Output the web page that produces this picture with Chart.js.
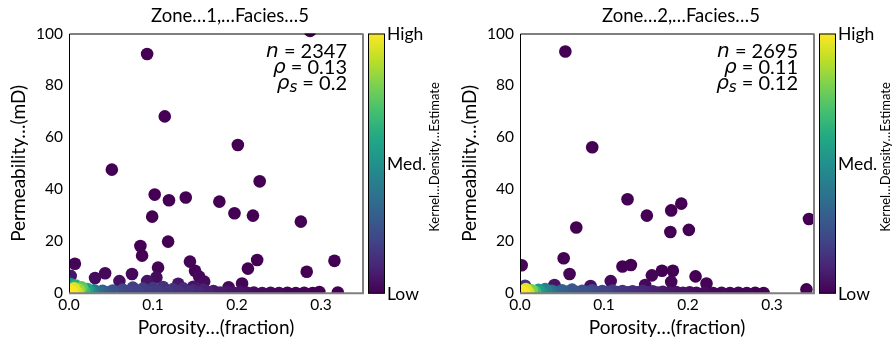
<!DOCTYPE html>
<html>
<head>
<meta charset="utf-8">
<script src="https://cdn.jsdelivr.net/npm/chart.js@4/dist/chart.umd.min.js"></script>
<style>
html, body { margin: 0; padding: 0; background: #fff; }
#wrap { position: relative; width: 893px; height: 341px; overflow: hidden; }
.panel { position: absolute; top: 0; width: 442px; height: 341px; }
</style>
</head>
<body>
<div id="wrap">
  <div class="panel" style="left:0"><canvas id="c1" width="442" height="341"></canvas></div>
  <div class="panel" style="left:451px"><canvas id="c2" width="442" height="341"></canvas></div>
</div>
<script>
// axis ticks
const xTicks = [0, 0.1, 0.2, 0.3];
const yTicks = [0, 20, 40, 60, 80, 100];

// panel text
const panelTitles = ["Zone…1,…Facies…5", "Zone…2,…Facies…5"];
const sampleCounts = ["2347", "2695"];
const pearsonRho = ["0.13", "0.11"];
const spearmanRho = ["0.2", "0.12"];
const colorbarLabels = ["High", "Med.", "Low"];

// Zone 1: porosity (fraction), permeability (mD), kernel density (0 = low, 1 = high)
const zone1Porosity = [
  0.093, 0.114, 0.051, 0.287, 0.201, 0.227, 0.102, 0.119, 0.139, 0.179,
  0.099, 0.197, 0.219, 0.276, 0.118, 0.085, 0.087, 0.007, 0.106, 0.144,
  0.150, 0.224, 0.213, 0.316, 0.283, 0.043, 0.031, 0.075, 0.060, 0.002,
  0.104, 0.093, 0.155, 0.161, 0.130, 0.206, 0.190, 0.298, 0.320, 0.148,
  0.000, 0.004, 0.006, 0.009, 0.002, 0.008, 0.012, 0.015, 0.018, 0.022,
  0.026, 0.030, 0.035, 0.040, 0.046, 0.052, 0.058, 0.064, 0.070, 0.076,
  0.082, 0.088, 0.094, 0.100, 0.106, 0.112, 0.118, 0.124, 0.130, 0.136,
  0.142, 0.148, 0.154, 0.160, 0.166, 0.172, 0.180, 0.188, 0.196, 0.204,
  0.212, 0.220, 0.230, 0.240, 0.250, 0.260, 0.270, 0.280, 0.290
];
const zone1Perm = [
  92.1, 68.1, 47.6, 101.0, 57.1, 43.1, 38.0, 35.8, 36.9, 35.3,
  29.5, 30.8, 29.9, 27.6, 19.9, 18.2, 14.5, 11.4, 9.9, 12.2,
  8.7, 12.8, 9.5, 12.5, 8.3, 7.7, 5.9, 7.4, 4.7, 6.7,
  6.1, 4.7, 6.4, 4.5, 3.7, 3.8, 2.3, 0.5, 0.3, 2.5,
  1.2, 0.6, 1.9, 0.4, 3.6, 3.0, 1.3, 2.3, 0.8, 1.6,
  0.6, 1.2, 0.5, 1.0, 0.4, 1.1, 0.5, 1.4, 0.6, 2.2,
  0.8, 1.8, 0.6, 2.0, 0.9, 2.4, 0.6, 1.6, 0.7, 1.9,
  0.5, 1.2, 0.4, 1.4, 0.5, 0.9, 0.3, 0.6, 0.2, 0.4,
  0.2, 0.3, 0.1, 0.2, 0.1, 0.2, 0.1, 0.2, 0.1
];
const zone1Density = [
  0.00, 0.00, 0.00, 0.00, 0.00, 0.00, 0.00, 0.00, 0.00, 0.00,
  0.00, 0.00, 0.00, 0.00, 0.00, 0.00, 0.00, 0.01, 0.01, 0.01,
  0.01, 0.00, 0.00, 0.00, 0.00, 0.02, 0.03, 0.02, 0.04, 0.06,
  0.03, 0.05, 0.02, 0.03, 0.06, 0.01, 0.02, 0.00, 0.00, 0.05,
  1.00, 0.99, 0.95, 0.93, 0.50, 0.62, 0.85, 0.75, 0.68, 0.58,
  0.48, 0.40, 0.34, 0.30, 0.27, 0.25, 0.23, 0.21, 0.20, 0.18,
  0.19, 0.18, 0.18, 0.16, 0.17, 0.14, 0.16, 0.14, 0.14, 0.12,
  0.13, 0.11, 0.11, 0.09, 0.09, 0.07, 0.07, 0.06, 0.05, 0.05,
  0.04, 0.03, 0.03, 0.02, 0.02, 0.01, 0.01, 0.01, 0.00
];

// Zone 2
const zone2Porosity = [
  0.054, 0.086, 0.128, 0.151, 0.180, 0.192, 0.067, 0.179, 0.201, 0.344,
  0.052, 0.002, 0.059, 0.122, 0.132, 0.157, 0.169, 0.182, 0.180, 0.209,
  0.222, 0.108, 0.041, 0.084, 0.341, 0.149, 0.006,
  0.000, 0.004, 0.007, 0.010, 0.014, 0.018, 0.022, 0.026, 0.030, 0.034,
  0.038, 0.044, 0.050, 0.056, 0.062, 0.068, 0.074, 0.080, 0.086, 0.092,
  0.098, 0.104, 0.110, 0.116, 0.122, 0.128, 0.134, 0.140, 0.146, 0.152,
  0.158, 0.164, 0.170, 0.178, 0.186, 0.194, 0.202, 0.210, 0.220, 0.230,
  0.240, 0.250, 0.260, 0.270, 0.280, 0.290
];
const zone2Perm = [
  93.1, 56.2, 36.2, 29.9, 31.9, 34.5, 25.3, 23.6, 24.4, 28.6,
  13.5, 10.8, 7.4, 10.3, 10.9, 6.9, 8.7, 8.7, 4.4, 6.5,
  3.8, 4.7, 3.2, 2.8, 1.5, 3.2, 2.9,
  1.0, 0.5, 1.6, 0.4, 1.2, 0.6, 1.3, 0.5, 1.6, 0.6,
  1.0, 0.5, 1.2, 0.6, 1.4, 0.5, 1.0, 0.6, 1.2, 0.5,
  0.9, 0.4, 1.1, 0.5, 0.9, 0.4, 0.8, 0.4, 1.0, 0.4,
  0.8, 0.3, 0.6, 0.3, 0.5, 0.2, 0.4, 0.2, 0.3, 0.1,
  0.2, 0.1, 0.2, 0.1, 0.2, 0.1
];
const zone2Density = [
  0.00, 0.00, 0.00, 0.00, 0.00, 0.00, 0.00, 0.00, 0.00, 0.00,
  0.00, 0.01, 0.01, 0.00, 0.00, 0.01, 0.00, 0.00, 0.01, 0.00,
  0.01, 0.02, 0.05, 0.04, 0.00, 0.02, 0.15,
  1.00, 0.99, 0.96, 0.92, 0.80, 0.68, 0.55, 0.48, 0.44, 0.40,
  0.35, 0.32, 0.30, 0.28, 0.27, 0.25, 0.25, 0.24, 0.22, 0.21,
  0.20, 0.19, 0.17, 0.16, 0.15, 0.14, 0.13, 0.12, 0.11, 0.10,
  0.09, 0.08, 0.07, 0.06, 0.05, 0.05, 0.04, 0.03, 0.03, 0.02,
  0.02, 0.01, 0.01, 0.01, 0.00, 0.00
];

const viridis = ["#440154", "#482475", "#414487", "#355f8d", "#2a788e", "#21918c",
                 "#22a884", "#44bf70", "#7ad151", "#bddf26", "#fde725"];

function hexRgb(h) {
    return [parseInt(h.slice(1, 3), 16), parseInt(h.slice(3, 5), 16), parseInt(h.slice(5, 7), 16)];
}

function viridisColor(t) {
    t = Math.max(0, Math.min(1, t));
    const pos = t * (viridis.length - 1);
    const i = Math.min(Math.floor(pos), viridis.length - 2);
    const f = pos - i;
    const a = hexRgb(viridis[i]), b = hexRgb(viridis[i + 1]);
    const c = a.map((v, k) => Math.round(v + (b[k] - v) * f));
    return `rgb(${c[0]},${c[1]},${c[2]})`;
}

// draws title, frame, stats, colorbar and its labels
const decorations = {
    id: "decorations",
    afterDraw(chart, args, opts) {
        const ctx = chart.ctx;
        const a = chart.chartArea;
        ctx.save();

        // frame
        ctx.strokeStyle = "#000";
        ctx.lineWidth = 1;
        ctx.beginPath();
        ctx.moveTo(a.left + 0.5, a.bottom);
        ctx.lineTo(a.left + 0.5, a.top + 0.5);
        ctx.lineTo(a.right, a.top + 0.5);
        ctx.stroke();
        ctx.strokeStyle = "#808080";
        ctx.lineWidth = 2;
        ctx.beginPath();
        ctx.moveTo(a.right, a.top);
        ctx.lineTo(a.right, a.bottom);
        ctx.lineTo(a.left, a.bottom);
        ctx.stroke();

        // title
        ctx.fillStyle = "#000";
        ctx.font = "18.5px Lato";
        ctx.textAlign = "center";
        ctx.textBaseline = "middle";
        ctx.fillText(opts.title, a.left + 161, 16.5);

        // stats
        const rightX = a.left + 278;
        const lines = [
            [["n", "italic 20px 'DejaVu Sans'", 0], [" = " + opts.n, "20px Lato", 0]],
            [["ρ", "italic 20px 'DejaVu Sans'", 0], [" = " + opts.rho, "20px Lato", 0]],
            [["ρ", "italic 20px 'DejaVu Sans'", 0], ["s", "italic 15px 'DejaVu Sans'", 4], [" = " + opts.rhoS, "20px Lato", 0]]
        ];
        const lineY = [52, 68, 84];
        ctx.textAlign = "left";
        ctx.textBaseline = "middle";
        lines.forEach((parts, li) => {
            let w = 0;
            parts.forEach(p => { ctx.font = p[1]; w += ctx.measureText(p[0]).width; });
            let x = rightX - w;
            parts.forEach(p => {
                ctx.font = p[1];
                ctx.fillText(p[0], x, lineY[li] + p[2]);
                x += ctx.measureText(p[0]).width;
            });
        });

        // colorbar
        const cx = a.left + 299, cw = 16;
        const grad = ctx.createLinearGradient(0, a.bottom, 0, a.top);
        viridis.forEach((c, i) => grad.addColorStop(i / (viridis.length - 1), c));
        ctx.fillStyle = grad;
        ctx.fillRect(cx, a.top, cw, a.bottom - a.top);
        ctx.strokeStyle = "#000";
        ctx.lineWidth = 1;
        ctx.strokeRect(cx + 0.5, a.top + 0.5, cw, a.bottom - a.top - 0.5);

        ctx.fillStyle = "#000";
        ctx.font = "17.5px Lato";
        ctx.textAlign = "left";
        ctx.fillText(colorbarLabels[0], a.left + 318, a.top + 1);
        ctx.fillText(colorbarLabels[1], a.left + 318, (a.top + a.bottom) / 2 + 1);
        ctx.fillText(colorbarLabels[2], a.left + 318, a.bottom + 1);

        ctx.translate(a.left + 366, 157);
        ctx.rotate(-Math.PI / 2);
        ctx.font = "13px Lato";
        ctx.textAlign = "center";
        ctx.fillText("Kernel…Density…Estimate", 0, 0);
        ctx.restore();
    }
};

function makePanel(canvasId, porosity, perm, density, idx) {
    const order = density.map((d, i) => i).sort((p, q) => density[p] - density[q]);
    const points = order.map(i => ({ x: porosity[i], y: perm[i] }));
    const colors = order.map(i => viridisColor(density[i]));

    return new Chart(document.getElementById(canvasId), {
        type: "scatter",
        data: {
            datasets: [{
                data: points,
                backgroundColor: colors,
                borderWidth: 0,
                pointRadius: 6.3,
                pointHoverRadius: 6.3,
                clip: 0
            }]
        },
        options: {
            responsive: false,
            animation: false,
            events: [],
            layout: { padding: { top: 33.5, right: 79, left: 0, bottom: 0 } },
            plugins: {
                legend: { display: false },
                tooltip: { enabled: false },
                decorations: {
                    title: panelTitles[idx],
                    n: sampleCounts[idx],
                    rho: pearsonRho[idx],
                    rhoS: spearmanRho[idx]
                }
            },
            scales: {
                x: {
                    type: "linear",
                    min: 0,
                    max: 0.35,
                    afterBuildTicks: s => { s.ticks = xTicks.map(v => ({ value: v })); },
                    afterFit: s => { s.height = 47.7; },
                    grid: { display: false, drawTicks: false },
                    border: { display: false },
                    ticks: {
                        callback: v => v.toFixed(1),
                        color: "#000",
                        font: { family: "Lato", size: 15.5 },
                        padding: 2,
                        maxRotation: 0,
                        autoSkip: false
                    },
                    title: {
                        display: true,
                        text: "Porosity…(fraction)",
                        color: "#000",
                        font: { family: "Lato", size: 19 },
                        padding: { top: 0, bottom: 1.6 }
                    }
                },
                y: {
                    type: "linear",
                    min: 0,
                    max: 100,
                    afterBuildTicks: s => { s.ticks = yTicks.map(v => ({ value: v })); },
                    afterFit: s => { s.width = 69; },
                    grid: { display: false, drawTicks: false },
                    border: { display: false },
                    ticks: {
                        color: "#000",
                        font: { family: "Lato", size: 15.5 },
                        padding: 6
                    },
                    title: {
                        display: true,
                        text: "Permeability…(mD)",
                        color: "#000",
                        font: { family: "Lato", size: 19 },
                        padding: { top: 7.6, bottom: 0 }
                    }
                }
            }
        },
        plugins: [decorations]
    });
}

makePanel("c1", zone1Porosity, zone1Perm, zone1Density, 0);
makePanel("c2", zone2Porosity, zone2Perm, zone2Density, 1);
</script>
</body>
</html>
